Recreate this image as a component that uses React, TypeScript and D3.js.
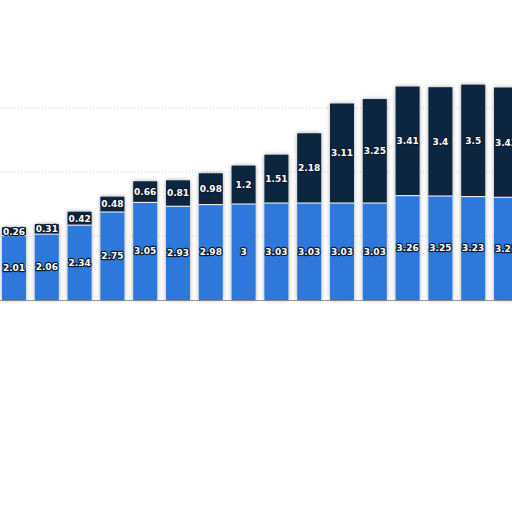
import * as d3 from "d3";
import React from 'react'

const categories = ["2008", "2009", "2010", "2011", "2012", "2013", "2014", "2015", "2016", "2017", "2018", "2019", "2020", "2021", "2022", "2023"]
const lowerValues = [2.01, 2.06, 2.34, 2.75, 3.05, 2.93, 2.98, 3, 3.03, 3.03, 3.03, 3.03, 3.26, 3.25, 3.23, 3.21]
const upperValues = [0.26, 0.31, 0.42, 0.48, 0.66, 0.81, 0.98, 1.2, 1.51, 2.18, 3.11, 3.25, 3.41, 3.4, 3.5, 3.43]
const gridValues = [2, 4, 6]

const W = 512
const H = 512

const App: React.FC = () => {
  const x = d3.scaleBand<string>()
    .domain(categories)
    .range([-2.4, 522.4])
    .paddingInner(0.268)
    .paddingOuter(0.134)
  const y = d3.scaleLinear().domain([0, 8]).range([300, 44])

  const label = (t: string, cx: number, cy: number, key: string) => (
    <text key={key} x={cx} y={cy} dy="0.35em" textAnchor="middle"
      fontFamily="DejaVu Sans, sans-serif" fontWeight="bold" fontSize={9}
      fill="#fff" stroke="#0b1a2e" strokeWidth={2.4} strokeLinejoin="round"
      style={{ paintOrder: "stroke" }}>{t}</text>
  )

  return (
    <svg width={W} height={H} style={{ position: "absolute", left: 0, top: 0, background: "#fff" }}>
      <defs>
        <filter id="shadow" x="-30%" y="-10%" width="160%" height="120%">
          <feDropShadow dx="0" dy="0" stdDeviation="2" floodColor="#000" floodOpacity="0.35" />
        </filter>
      </defs>
      {gridValues.map(v =>
        <line key={"g" + v} x1={0} x2={W} y1={y(v)} y2={y(v)} stroke="#d4d4d4" strokeDasharray="1,2" />)}
      <line x1={0} x2={W} y1={y(0) + 0.5} y2={y(0) + 0.5} stroke="#9a9a9a" strokeWidth={1} />
      {categories.map((c, i) => {
        const x0 = x(c) as number
        const bw = x.bandwidth()
        const lo = lowerValues[i]
        const up = upperValues[i]
        return (
          <g key={c}>
            <g filter="url(#shadow)">
              <rect x={x0} width={bw} y={y(lo + up)} height={y(lo) - y(lo + up)} fill="#11263f" />
              <rect x={x0} width={bw} y={y(lo)} height={y(0) - y(lo)} fill="#2e78db" />
            </g>
            <line x1={x0} x2={x0 + bw} y1={y(lo)} y2={y(lo)} stroke="#fff" strokeWidth={1} />
          </g>
        )
      })}
      {categories.map((c, i) => {
        const cx = (x(c) as number) + x.bandwidth() / 2
        const lo = lowerValues[i]
        const up = upperValues[i]
        return (
          <g key={"l" + c}>
            {label(String(lo), cx, (y(0) + y(lo)) / 2, "lo")}
            {label(String(up), cx, (y(lo) + y(lo + up)) / 2, "up")}
          </g>
        )
      })}
    </svg>
  )
}

export default App
